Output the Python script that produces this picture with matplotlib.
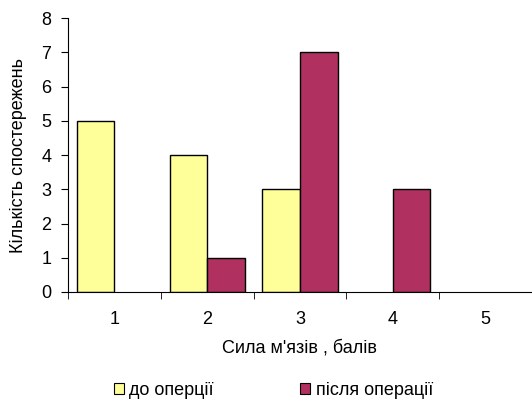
import numpy as np
import matplotlib
matplotlib.use("Agg")
import matplotlib.pyplot as plt
from matplotlib.patches import Patch

plt.rcParams['font.family'] = ['Liberation Sans', 'DejaVu Sans']
plt.rcParams['font.size'] = 13

categories = ["1", "2", "3", "4", "5"]
before = [5, 4, 3, 0, 0]
after = [0, 1, 7, 3, 0]
series_names = ["до оперції", "після операції"]
colors = ["#FFFF99", "#B03060"]

x = np.arange(1, len(categories) + 1)
w = 0.405

fig = plt.figure(figsize=(5.32, 4.01), dpi=100)
ax = fig.add_axes([68 / 532, 109 / 401, 1 - 68 / 532, 274 / 401])

# bars of zero height are not drawn in the original
b = np.array(before)
a = np.array(after)
ax.bar((x - w / 2)[b > 0], b[b > 0], width=w, color=colors[0], edgecolor="black", linewidth=1)
ax.bar((x + w / 2)[a > 0], a[a > 0], width=w, color=colors[1], edgecolor="black", linewidth=1)

ax.set_xlim(0.5, 5.45)
ax.set_ylim(0, 8)
ax.set_yticks(range(0, 9))
ax.set_xticks(x)
ax.set_xticklabels(categories)
ax.set_xticks(np.arange(0.5, 6, 1), minor=True)
ax.tick_params(axis="x", which="major", length=0, pad=14)
ax.tick_params(axis="x", which="minor", length=5, direction="out")
ax.tick_params(axis="y", length=5, direction="out", pad=7)

for s in ["top", "right"]:
    ax.spines[s].set_visible(False)

ax.set_xlabel("Сила м'язів , балів", labelpad=8)
ax.set_ylabel("Кількість спостережень", labelpad=10)

handles = [Patch(facecolor=c, edgecolor="black", linewidth=0.8) for c in colors]
fig.legend(handles, series_names, loc="center", bbox_to_anchor=(0.514, 0.027),
           ncol=2, frameon=False, handlelength=0.55, handleheight=0.55,
           handletextpad=0.3, columnspacing=4.8, borderaxespad=0)

fig.savefig("out.png", dpi=100)
